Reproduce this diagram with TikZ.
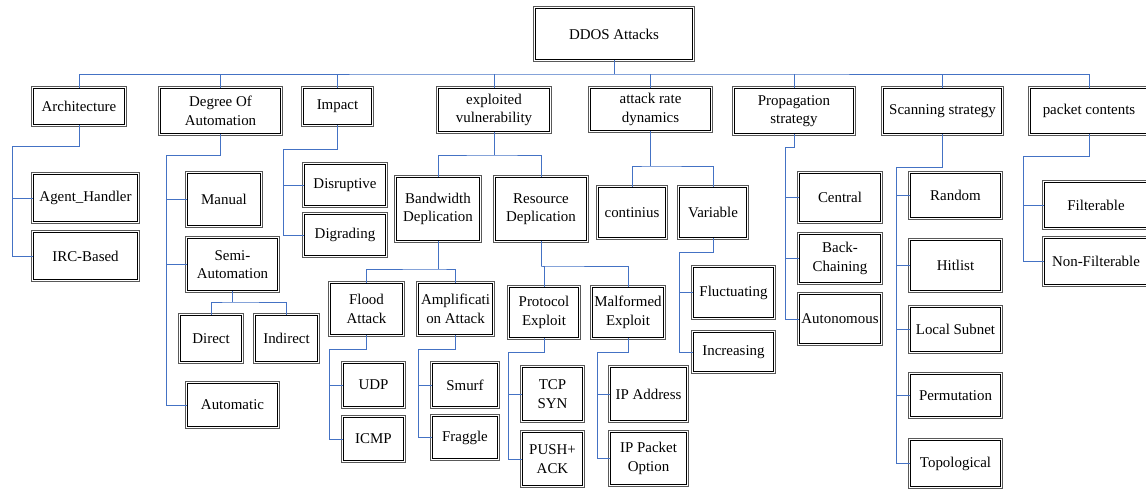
\documentclass[tikz,border=0pt]{standalone}
\usepackage{fontspec}
\setmainfont{Liberation Serif}
\usepackage{tikz}
\usetikzlibrary{positioning}
\definecolor{linkblue}{HTML}{4472C4}
\tikzstyle{box} = [rectangle, draw=black, line width=0.8pt, fill=white, align=center, inner sep=1pt, font=\fontsize{8.5}{10.5}\selectfont, preaction={draw=black!65, line width=3.4pt}, preaction={draw=white, line width=2.2pt}]
\tikzstyle{link} = [draw=linkblue, line width=0.55pt]

\begin{document}
\begin{tikzpicture}[x=0.02cm, y=-0.02cm]
            \useasboundingbox (0,0) rectangle (1146,489);
            % root and first level
            \node[box, minimum width=3.14cm, minimum height=1.02cm] (root) at (614,34) {DDOS Attacks};
            \node[box, minimum width=1.82cm, minimum height=0.72cm] (arch) at (79,106.5) {Architecture};
            \node[box, minimum width=2.40cm, minimum height=0.90cm] (degree) at (220.5,111) {Degree Of\\Automation};
            \node[box, minimum width=1.36cm, minimum height=0.72cm] (impact) at (337.5,106.5) {Impact};
            \node[box, minimum width=2.22cm, minimum height=0.86cm] (exploit) at (494,110) {exploited\\vulnerability};
            \node[box, minimum width=2.40cm, minimum height=0.84cm] (rate) at (650.5,109.5) {attack rate\\dynamics};
            \node[box, minimum width=2.38cm, minimum height=0.90cm] (propag) at (794,111) {Propagation\\strategy};
            \node[box, minimum width=2.36cm, minimum height=0.90cm] (scan) at (942.5,111) {Scanning strategy};
            \node[box, minimum width=2.34cm, minimum height=0.90cm] (packet) at (1089,111) {packet contents};

            % architecture, automation, impact
            \node[box, minimum width=2.08cm, minimum height=0.94cm] (agent) at (85.5,198) {Agent\_Handler};
            \node[box, minimum width=2.08cm, minimum height=0.94cm] (irc) at (85.5,256) {IRC-Based};
            \node[box, minimum width=1.46cm, minimum height=1.04cm] (manual) at (224,199.5) {Manual};
            \node[box, minimum width=1.80cm, minimum height=1.04cm] (semi) at (232.5,264.5) {Semi-\\Automation};
            \node[box, minimum width=1.22cm, minimum height=0.92cm] (direct) at (211,338.5) {Direct};
            \node[box, minimum width=1.24cm, minimum height=0.92cm] (indirect) at (286.5,338.5) {Indirect};
            \node[box, minimum width=1.80cm, minimum height=0.86cm] (automatic) at (232.5,405) {Automatic};
            \node[box, minimum width=1.62cm, minimum height=0.82cm] (disrupt) at (345,185) {Disruptive};
            \node[box, minimum width=1.62cm, minimum height=0.82cm] (degrad) at (345,235) {Digrading};

            % exploited vulnerability
            \node[box, minimum width=1.66cm, minimum height=1.26cm] (bandw) at (438,209) {Bandwidth\\Deplication};
            \node[box, minimum width=1.82cm, minimum height=1.26cm] (resource) at (541,209) {Resource\\Deplication};
            \node[box, minimum width=1.44cm, minimum height=1.02cm] (flood) at (366.5,309) {Flood\\Attack};
            \node[box, minimum width=1.48cm, minimum height=1.02cm] (ampl) at (455.5,309) {Amplificati\\on Attack};
            \node[box, minimum width=1.20cm, minimum height=0.86cm] (udp) at (373.5,385) {UDP};
            \node[box, minimum width=1.20cm, minimum height=0.86cm] (icmp) at (373.5,439) {ICMP};
            \node[box, minimum width=1.30cm, minimum height=0.86cm] (smurf) at (465,385) {Smurf};
            \node[box, minimum width=1.30cm, minimum height=0.84cm] (fraggle) at (465,437.5) {Fraggle};
            \node[box, minimum width=1.38cm, minimum height=1.00cm] (protocol) at (544,312.5) {Protocol\\Exploit};
            \node[box, minimum width=1.38cm, minimum height=1.00cm] (malformed) at (628,312.5) {Malformed\\Exploit};
            \node[box, minimum width=1.20cm, minimum height=1.06cm] (tcp) at (552.5,394) {TCP\\SYN};
            \node[box, minimum width=1.20cm, minimum height=1.06cm] (push) at (552.5,459) {PUSH+\\ACK};
            \node[box, minimum width=1.52cm, minimum height=1.06cm] (ipaddr) at (648.5,394) {IP Address};
            \node[box, minimum width=1.52cm, minimum height=1.04cm] (ipopt) at (648.5,458.5) {IP Packet\\Option};

            % attack rate dynamics
            \node[box, minimum width=1.34cm, minimum height=1.00cm] (contin) at (632,212.5) {continius};
            \node[box, minimum width=1.34cm, minimum height=1.00cm] (variable) at (713,212.5) {Variable};
            \node[box, minimum width=1.60cm, minimum height=1.00cm] (fluct) at (733.5,292.5) {Fluctuating};
            \node[box, minimum width=1.60cm, minimum height=0.78cm] (increas) at (733.5,352) {Increasing};

            % propagation, scanning, packet contents
            \node[box, minimum width=1.62cm, minimum height=0.96cm] (central) at (840,197.5) {Central};
            \node[box, minimum width=1.62cm, minimum height=0.96cm] (backch) at (840,258.5) {Back-\\Chaining};
            \node[box, minimum width=1.62cm, minimum height=0.98cm] (autonom) at (840,319) {Autonomous};
            \node[box, minimum width=1.80cm, minimum height=0.88cm] (random) at (955.5,195.5) {Random};
            \node[box, minimum width=1.80cm, minimum height=1.00cm] (hitlist) at (955.5,265.5) {Hitlist};
            \node[box, minimum width=1.80cm, minimum height=0.88cm] (subnet) at (955.5,329.5) {Local Subnet};
            \node[box, minimum width=1.80cm, minimum height=0.84cm] (permut) at (955.5,395.5) {Permutation};
            \node[box, minimum width=1.80cm, minimum height=0.92cm] (topolog) at (955.5,463.5) {Topological};
            \node[box, minimum width=2.06cm, minimum height=0.90cm] (filter) at (1096,205) {Filterable};
            \node[box, minimum width=2.06cm, minimum height=0.92cm] (nonfilter) at (1096,261.5) {Non-Filterable};

            % bends of the connectors
            \coordinate (bus) at (614,74);
            \coordinate (exbus) at (494,155);
            \coordinate (ratebus) at (650.5,166);
            \coordinate (semibus) at (232.5,302);
            \coordinate (bwbus) at (438,269);
            \coordinate (resbus) at (541,266);
            \coordinate (archtrunk) at (12,146);
            \coordinate (degtrunk) at (166,155);
            \coordinate (imptrunk) at (283,149);
            \coordinate (floodtrunk) at (329,349);
            \coordinate (ampltrunk) at (418,349);
            \coordinate (prottrunk) at (508,352);
            \coordinate (maltrunk) at (597,352);
            \coordinate (vartrunk) at (679,252);
            \coordinate (proptrunk) at (785,147);
            \coordinate (scantrunk) at (896,167);
            \coordinate (pkttrunk) at (1023,156);

            % connectors
            \draw[link] (root.south) -- (bus);
            \draw[link] (arch.north) |- (bus) -| (packet.north);
            \foreach \n in {degree,impact,exploit,rate,propag,scan}
                \draw[link] (\n.north) -- (\n.north |- bus);

            \draw[link] (exploit.south) -- (exbus);
            \draw[link] (bandw.north) |- (exbus) -| (resource.north);
            \draw[link] (rate.south) -- (ratebus);
            \draw[link] (contin.north) |- (ratebus) -| (variable.north);
            \draw[link] (semi.south) -- (semibus);
            \draw[link] (direct.north) |- (semibus) -| (indirect.north);
            \draw[link] (bandw.south) -- (bwbus);
            \draw[link] (flood.north) |- (bwbus) -| (ampl.north);
            \draw[link] (resource.south) -- (resbus);
            \draw[link] (protocol.north) |- (resbus) -| (malformed.north);

            \draw[link] (arch.south) |- (archtrunk) |- (irc.west);
            \draw[link] (agent.west) -- (agent.west -| archtrunk);
            \draw[link] (degree.south) |- (degtrunk) |- (automatic.west);
            \foreach \n in {manual,semi}
                \draw[link] (\n.west) -- (\n.west -| degtrunk);
            \draw[link] (impact.south) |- (imptrunk) |- (degrad.west);
            \draw[link] (disrupt.west) -- (disrupt.west -| imptrunk);
            \draw[link] (flood.south) |- (floodtrunk) |- (icmp.west);
            \draw[link] (udp.west) -- (udp.west -| floodtrunk);
            \draw[link] (ampl.south) |- (ampltrunk) |- (fraggle.west);
            \draw[link] (smurf.west) -- (smurf.west -| ampltrunk);
            \draw[link] (protocol.south) |- (prottrunk) |- (push.west);
            \draw[link] (tcp.west) -- (tcp.west -| prottrunk);
            \draw[link] (malformed.south) |- (maltrunk) |- (ipopt.west);
            \draw[link] (ipaddr.west) -- (ipaddr.west -| maltrunk);
            \draw[link] (variable.south) |- (vartrunk) |- (increas.west);
            \draw[link] (fluct.west) -- (fluct.west -| vartrunk);
            \draw[link] (propag.south) |- (proptrunk) |- (autonom.west);
            \foreach \n in {central,backch}
                \draw[link] (\n.west) -- (\n.west -| proptrunk);
            \draw[link] (scan.south) |- (scantrunk) |- (topolog.west);
            \foreach \n in {random,hitlist,subnet,permut}
                \draw[link] (\n.west) -- (\n.west -| scantrunk);
            \draw[link] (packet.south) |- (pkttrunk) |- (nonfilter.west);
            \draw[link] (filter.west) -- (filter.west -| pkttrunk);
        \end{tikzpicture}
\end{document}
